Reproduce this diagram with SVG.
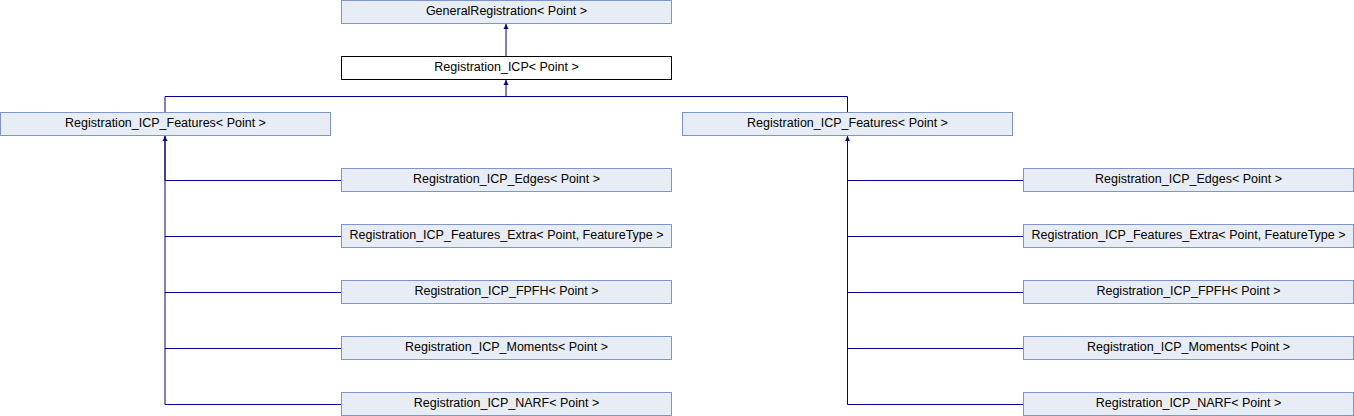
<svg xmlns="http://www.w3.org/2000/svg" width="1354" height="416" viewBox="0 0 1354 416">
<defs>
<style>
.n rect{fill:#E8ECF4;stroke:#7C95CC;stroke-width:1}
.n.cur rect{fill:#FFFFFF;stroke:#000000}
text{font-family:"Liberation Sans",Arial,sans-serif;font-size:12.5px;fill:#000000;text-anchor:middle}
.e{fill:none;stroke:#000090;stroke-width:1}
</style>
<marker id="ah" markerWidth="6" markerHeight="6" refX="5" refY="3" orient="auto" markerUnits="userSpaceOnUse">
<path d="M0,0.5 L5,3 L0,5.5 Z" fill="#000090"/>
</marker>
</defs>
<rect width="1354" height="416" fill="#FFFFFF"/>
<g id="edges">
<path class="e" d="M506,56 V24" marker-end="url(#ah)"/>
<path class="e" d="M165,112 V96.5 H847.5 V112"/>
<path class="e" d="M506,96.5 V80" marker-end="url(#ah)"/>
<path class="e" d="M165,180.5 V136" marker-end="url(#ah)"/>
<path class="e" d="M165,180.5 H341"/>
<path class="e" d="M165,236.5 H341"/>
<path class="e" d="M165,292.5 H341"/>
<path class="e" d="M165,348.5 H341"/>
<path class="e" d="M165,136 V404.5 H341"/>
<path class="e" d="M847.5,180.5 V136" marker-end="url(#ah)"/>
<path class="e" d="M847.5,180.5 H1023"/>
<path class="e" d="M847.5,236.5 H1023"/>
<path class="e" d="M847.5,292.5 H1023"/>
<path class="e" d="M847.5,348.5 H1023"/>
<path class="e" d="M847.5,136 V404.5 H1023"/>
</g>
<g id="general" class="n"><rect x="341.5" y="0.5" width="330" height="23"/><text x="506.5" y="15.2">GeneralRegistration&lt; Point &gt;</text></g>
<g id="icp" class="n cur"><rect x="341.5" y="56.5" width="330" height="23"/><text x="506.5" y="71.2">Registration_ICP&lt; Point &gt;</text></g>
<g id="features_l" class="n"><rect x="0.5" y="112.5" width="330" height="23"/><text x="165.5" y="127.2">Registration_ICP_Features&lt; Point &gt;</text></g>
<g id="features_r" class="n"><rect x="682.5" y="112.5" width="330" height="23"/><text x="847.5" y="127.2">Registration_ICP_Features&lt; Point &gt;</text></g>
<g id="edges_l" class="n"><rect x="341.5" y="168.5" width="330" height="23"/><text x="506.5" y="183.2">Registration_ICP_Edges&lt; Point &gt;</text></g>
<g id="extra_l" class="n"><rect x="341.5" y="224.5" width="330" height="23"/><text x="506.5" y="239.2">Registration_ICP_Features_Extra&lt; Point, FeatureType &gt;</text></g>
<g id="fpfh_l" class="n"><rect x="341.5" y="280.5" width="330" height="23"/><text x="506.5" y="295.2">Registration_ICP_FPFH&lt; Point &gt;</text></g>
<g id="moments_l" class="n"><rect x="341.5" y="336.5" width="330" height="23"/><text x="506.5" y="351.2">Registration_ICP_Moments&lt; Point &gt;</text></g>
<g id="narf_l" class="n"><rect x="341.5" y="392.5" width="330" height="23"/><text x="506.5" y="407.2">Registration_ICP_NARF&lt; Point &gt;</text></g>
<g id="edges_r" class="n"><rect x="1023.5" y="168.5" width="330" height="23"/><text x="1188.5" y="183.2">Registration_ICP_Edges&lt; Point &gt;</text></g>
<g id="extra_r" class="n"><rect x="1023.5" y="224.5" width="330" height="23"/><text x="1188.5" y="239.2">Registration_ICP_Features_Extra&lt; Point, FeatureType &gt;</text></g>
<g id="fpfh_r" class="n"><rect x="1023.5" y="280.5" width="330" height="23"/><text x="1188.5" y="295.2">Registration_ICP_FPFH&lt; Point &gt;</text></g>
<g id="moments_r" class="n"><rect x="1023.5" y="336.5" width="330" height="23"/><text x="1188.5" y="351.2">Registration_ICP_Moments&lt; Point &gt;</text></g>
<g id="narf_r" class="n"><rect x="1023.5" y="392.5" width="330" height="23"/><text x="1188.5" y="407.2">Registration_ICP_NARF&lt; Point &gt;</text></g>
</svg>
